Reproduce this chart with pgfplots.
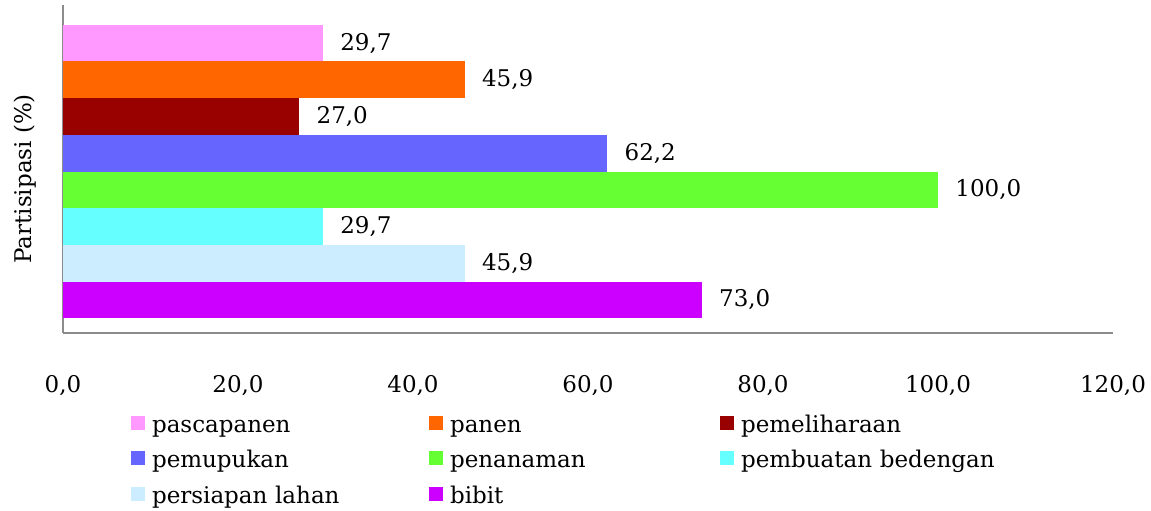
\documentclass[border=0pt]{standalone}
\usepackage{fontspec}
\setmainfont{DejaVu Serif}
\usepackage{pgfplots}
\pgfplotsset{compat=1.18}
\definecolor{c1}{HTML}{FF99FF}
\definecolor{c2}{HTML}{FF6600}
\definecolor{c3}{HTML}{990000}
\definecolor{c4}{HTML}{6666FF}
\definecolor{c5}{HTML}{66FF33}
\definecolor{c6}{HTML}{66FFFF}
\definecolor{c7}{HTML}{CCECFF}
\definecolor{c8}{HTML}{CC00FF}
\definecolor{axgray}{HTML}{8C8C8C}
\newcommand\ff{\fontsize{11.5}{13.8}\selectfont}
\pgfplotsset{sq/.style={legend image code/.code={\fill[##1,draw=none] (0pt,-1.5pt) rectangle (7pt,5.5pt);}}}
\begin{document}
\begin{tikzpicture}[font=\ff]
\begin{axis}[
  scale only axis,
  width=525pt, height=164pt,
  xbar, bar width=1,
  xmin=0, xmax=120, ymin=0.1, ymax=9.04,
  enlargelimits=false,
  axis lines*=left,
  axis line style={axgray, line width=0.8pt},
  xtick={0,20,...,120},
  ytick=\empty,
  major tick length=0pt,
  /pgf/number format/assume math mode=true,
  xticklabel style={font=\ff, inner sep=0pt, yshift=-21pt,
    /pgf/number format/.cd, fixed, fixed zerofill, precision=1, use comma},
  ylabel={Partisipasi (\%)},
  ylabel style={font=\ff, at={([xshift=-19pt]rel axis cs:0,0.47)}, anchor=center},
  point meta=x,
  nodes near coords,
  nodes near coords style={font=\ff, anchor=west, inner sep=0pt, xshift=8.5pt, text=black,
    /pgf/number format/.cd, fixed, fixed zerofill, precision=1, use comma, assume math mode=true},
  every axis plot/.append style={draw=none, bar shift=0pt, sq},
  clip=false,
  legend columns=3,
  legend cell align=left,
  legend style={draw=none, font=\ff, at={(rel axis cs:0.0648,-0.252)}, anchor=north west,
    inner sep=0pt, outer sep=0pt, row sep=7pt,
    nodes={inner sep=0pt, text height=8pt, text depth=2.5pt, text width=138.5pt, align=left},
    /tikz/every odd column/.style={column sep=3.5pt},
    /tikz/column 4/.style={nodes={text width=135pt}}},
]
\addplot[fill=c1] coordinates {(29.7,8)};
\addplot[fill=c2] coordinates {(45.9,7)};
\addplot[fill=c3] coordinates {(27.0,6)};
\addplot[fill=c4] coordinates {(62.2,5)};
\addplot[fill=c5] coordinates {(100.0,4)};
\addplot[fill=c6] coordinates {(29.7,3)};
\addplot[fill=c7] coordinates {(45.9,2)};
\addplot[fill=c8] coordinates {(73.0,1)};
\legend{pascapanen, panen, pemeliharaan, pemupukan, penanaman, pembuatan bedengan, persiapan lahan, bibit}
\coordinate (bl) at (rel axis cs:0,0);
\coordinate (tr) at (rel axis cs:1,1);
\end{axis}
\pgfresetboundingbox
\path[use as bounding box] ([xshift=-31.5pt,yshift=-89pt]bl) rectangle ([xshift=19pt,yshift=2.5pt]tr);
\end{tikzpicture}
\end{document}
